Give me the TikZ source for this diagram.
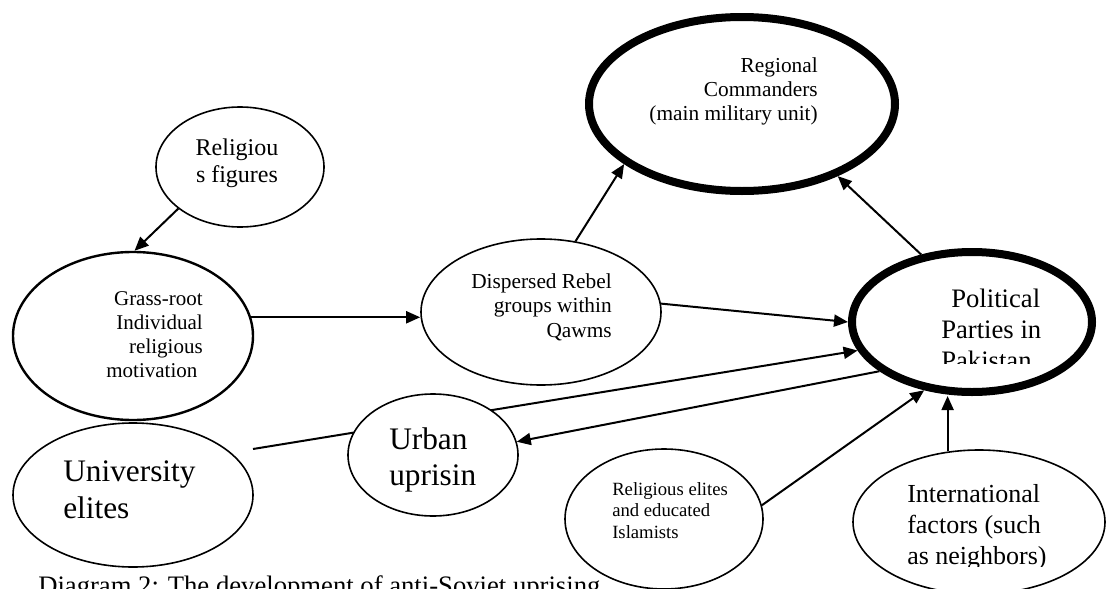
\documentclass[tikz,border=0pt]{standalone}
\usepackage{fontspec}
\setmainfont{Liberation Serif}
\usetikzlibrary{arrows.meta,shapes.geometric}
\newcommand\blk[4]{\fontsize{#2}{#3}\selectfont\begin{tabular}[t]{@{}#1@{}}#4\end{tabular}}
\begin{document}
\begin{tikzpicture}[x=0.75pt,y=-0.75pt,
  ell/.style={ellipse,draw,fill=white,line width=1.2pt,inner sep=0pt},
  heavy/.style={line width=6pt},
  conn/.style={line width=1.5pt,-{Triangle[length=10.5pt,width=9pt]}},
  txt/.style={inner sep=0pt}]
\useasboundingbox (0,0) rectangle (1107,589);
% ellipses
\node[ell,minimum width=126pt,minimum height=90pt] (RF) at (240,167) {};
\node[ell,line width=1.8pt,minimum width=180pt,minimum height=126pt] (GR) at (133,336) {};
\node[ell,minimum width=180pt,minimum height=109.5pt] (DR) at (541,312) {};
\node[ell,heavy,minimum width=229.5pt,minimum height=130.5pt] (RC) at (742,104) {};
\node[ell,heavy,minimum width=180pt,minimum height=105pt] (PP) at (972,322) {};
\node[ell,minimum width=180pt,minimum height=108pt] (UE) at (133,495) {};
\node[ell,minimum width=148.5pt,minimum height=105pt] (RE) at (664,519) {};
\node[ell,minimum width=189pt,minimum height=108pt] (IF) at (979,522) {};
\coordinate (UEs) at (253,449);
\draw[conn] (UEs) -- (PP.194);
\node[ell,minimum width=127.5pt,minimum height=91.5pt] (UU) at (433,455) {};
% texts
\node[txt,anchor=base] (RFt) at (237,155) {\blk{c}{18pt}{20.25pt}{Religiou\\s figures}};
\node[txt,anchor=base east] (GRt) at (203,305) {\blk{r}{15.75pt}{18pt}{Grass-root\\Individual\\religious\\motivation\hspace*{4pt}}};
\node[txt,anchor=base east] (DRt) at (612,288) {\blk{r}{16pt}{18.4pt}{Dispersed Rebel\\groups within\\Qawms}};
\node[txt,anchor=base east] (RCt) at (818,72) {\blk{r}{16pt}{18pt}{Regional\\Commanders\\(main military unit)}};
\begin{scope}
\clip (900,250) rectangle (1090,363);
\node[txt,anchor=base west] (PPt) at (941,307) {\blk{l}{20pt}{23.25pt}{\hspace*{7.5pt}Political\\Parties in\\Pakistan}};
\end{scope}
\node[txt,anchor=base west] (UUt) at (389,449) {\blk{l}{23.5pt}{27pt}{Urban\\uprisin}};
\node[txt,anchor=base west] (UEt) at (63,481) {\blk{l}{23.5pt}{27.75pt}{University\\elites}};
\node[txt,anchor=base west] (REt) at (612,495) {\blk{l}{14pt}{16.25pt}{Religious elites\\and educated\\Islamists}};
\begin{scope}
\clip (850,440) rectangle (1107,566);
\node[txt,anchor=base west] (IFt) at (907,502) {\blk{l}{19.5pt}{23.25pt}{International\\factors (such\\as neighbors)}};
\end{scope}
\node[txt,anchor=base west] (cap) at (38,594) {\fontsize{20pt}{24pt}\selectfont Diagram 2: The development of anti-Soviet uprising};
% connectors
\draw[conn] (RF.214) -- (GR.89);
\draw[conn] (GR.9) -- (GR.9 -| DR.west);
\draw[conn] (DR.64) -- (RC.207);
\draw[conn] (PP.127) -- (RC.323);
\draw[conn] (DR.4) -- (PP.180);
\draw[conn] (PP.208) -- (UU.9);
\draw[conn] (RE.8) -- (PP.235);
\draw[conn] (IF.114) -- (IF.114 |- PP.south);
\end{tikzpicture}
\end{document}
